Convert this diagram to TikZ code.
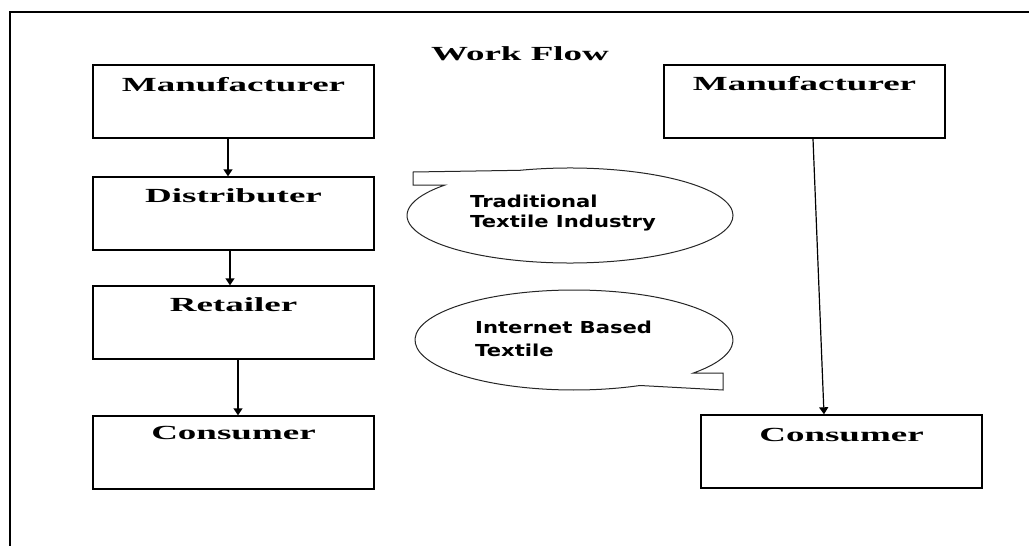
\documentclass[tikz,border=0pt]{standalone}
\usepackage{fontspec}
\usepackage{graphicx}
\usetikzlibrary{arrows.meta,calc}
\setmainfont{Liberation Serif}
\newfontfamily\bubblesans{DejaVu Sans}
% wide bold serif labels and slightly widened sans labels
\newcommand\widelabel[1]{\scalebox{1.85}[1]{#1}}
\newcommand\widenote[1]{\scalebox{1.28}[1]{#1}}

\begin{document}
\begin{tikzpicture}[x=1pt,y=-1pt,
  stagebox/.style={draw, line width=1.4pt, minimum width=281pt, minimum height=73pt, inner sep=0pt},
  stagelabel/.style={anchor=base, inner sep=0pt, font=\fontsize{20}{24}\selectfont\bfseries},
  notelabel/.style={anchor=base west, inner sep=0pt, font=\fontsize{16.5}{20}\bubblesans\bfseries},
  flow/.style={line width=1.4pt, -{Triangle[width=9pt,length=7pt]}},
  bubble/.style={draw=black!85, line width=1pt},
  frame/.style={line width=2pt}]
\useasboundingbox (0,0) rectangle (1029,546);

% outer frame
\draw[frame] (9.5,546) -- (9.5,12.3) -- (1029,12.3);

% title
\node[stagelabel] (title) at (520,60) {\widelabel{Work Flow}};

% traditional chain
\node[stagebox] (m1) at (233.5,101.5) {};
\node[stagebox] (d1) at (233.5,213.5) {};
\node[stagebox] (r1) at (233.5,322.5) {};
\node[stagebox] (c1) at (233.5,452.5) {};
\node[stagelabel] (m1t) at ($(m1.north)+(0,27)$) {\widelabel{Manufacturer}};
\node[stagelabel] (d1t) at ($(d1.north)+(0,26)$) {\widelabel{Distributer}};
\node[stagelabel] (r1t) at ($(r1.north)+(0,26)$) {\widelabel{Retailer}};
\node[stagelabel] (c1t) at ($(c1.north)+(0,24)$) {\widelabel{Consumer}};

% internet chain
\node[stagebox] (m2) at (804.5,101.5) {};
\node[stagebox] (c2) at (841.5,451.5) {};
\node[stagelabel] (m2t) at ($(m2.north)+(0,26)$) {\widelabel{Manufacturer}};
\node[stagelabel] (c2t) at ($(c2.north)+(0,27)$) {\widelabel{Consumer}};

% connectors
\draw[flow] ([xshift=-5.5pt]m1.south) -- ([xshift=-5.5pt]d1.north);
\draw[flow] ([xshift=-3.5pt]d1.south) -- ([xshift=-3.5pt]r1.north);
\draw[flow] ([xshift=4.5pt]r1.south) -- ([xshift=4.5pt]c1.north);
\draw[flow, line width=1.2pt] ([xshift=8.5pt]m2.south) -- ([xshift=-17.5pt]c2.north);

% callout: traditional
\coordinate (e1) at (570,215.5);
\draw[bubble] ($(e1)+(107.9:163pt and 47.5pt)$)
  arc[start angle=107.9, end angle=-219.9, x radius=163pt, y radius=47.5pt]
  -- (413,185) -- (413,172) -- cycle;
\node[notelabel] (n1a) at (470,207) {\widenote{Traditional}};
\node[notelabel] (n1b) at (470,227) {\widenote{Textile Industry}};

% callout: internet based
\coordinate (e2) at (574,340);
\draw[bubble] (723,373) -- ($(e2)+(-41.3:159pt and 50pt)$)
  arc[start angle=-41.3, end angle=294.5, x radius=159pt, y radius=50pt]
  -- (723,390) -- cycle;
\node[notelabel] (n2a) at (475,333) {\widenote{Internet Based}};
\node[notelabel] (n2b) at (475,356) {\widenote{Textile}};
\end{tikzpicture}
\end{document}
